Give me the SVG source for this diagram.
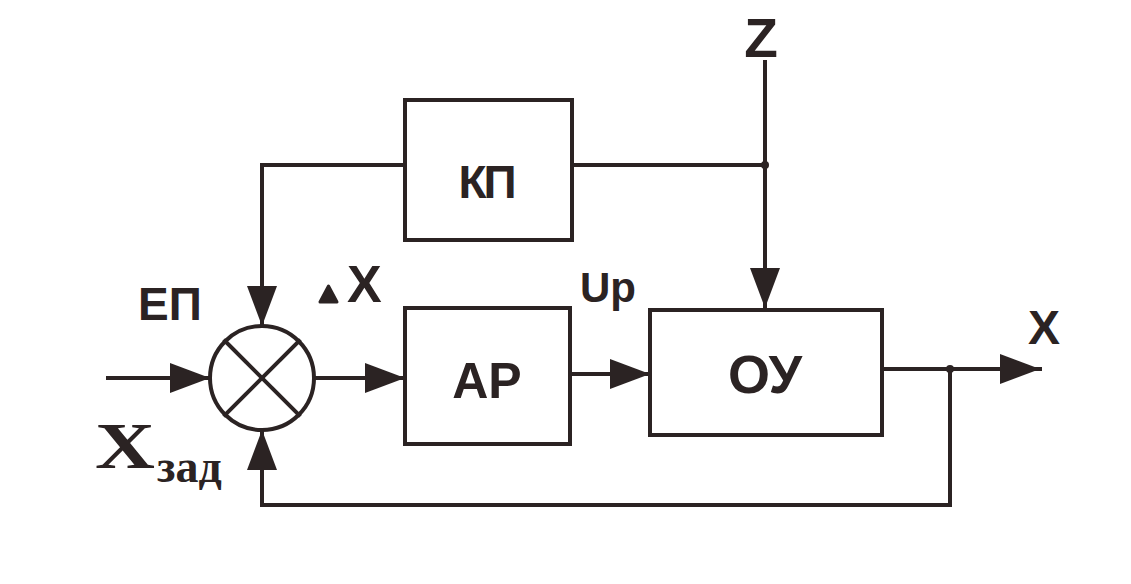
<svg xmlns="http://www.w3.org/2000/svg" width="1131" height="584" viewBox="0 0 1131 584">
<defs>
<style>
.ln{fill:none;stroke:#2b2323;stroke-width:4;stroke-linecap:square}
.bx{fill:#fff;stroke:#2b2323;stroke-width:4}
.t{font-family:"Liberation Sans",Arial,sans-serif;font-weight:bold;fill:#2b2323}
.s{font-family:"Liberation Serif","Times New Roman",serif;font-weight:bold;fill:#2b2323}
.ar{fill:#2b2323}
</style>
<marker id="arr" viewBox="0 0 40 30" refX="40" refY="15" markerWidth="40" markerHeight="30" markerUnits="userSpaceOnUse" orient="auto">
<path d="M0,0 L40,15 L0,30 Z" class="ar"/>
</marker>
</defs>
<rect width="1131" height="584" fill="#fff"/>
<g id="connectors">
<polyline class="ln" points="405,165 262,165 262,326" marker-end="url(#arr)"/>
<line class="ln" x1="572" y1="165" x2="765" y2="165"/>
<line class="ln" x1="765" y1="62" x2="765" y2="308" marker-end="url(#arr)"/>
<circle cx="765" cy="165" r="4" class="ar"/>
<line class="ln" x1="108" y1="378" x2="210" y2="378" marker-end="url(#arr)"/>
<line class="ln" x1="314" y1="378" x2="405" y2="378" marker-end="url(#arr)"/>
<line class="ln" x1="570" y1="374" x2="650" y2="374" marker-end="url(#arr)"/>
<line class="ln" x1="882" y1="369" x2="1040" y2="369" marker-end="url(#arr)"/>
<circle cx="950" cy="369" r="4" class="ar"/>
<polyline class="ln" points="950,369 950,505 262,505 262,430" marker-end="url(#arr)"/>
</g>
<g id="sum">
<circle cx="262" cy="378" r="52" fill="#fff" stroke="#2b2323" stroke-width="4"/>
<line class="ln" x1="225" y1="341" x2="299" y2="415"/>
<line class="ln" x1="299" y1="341" x2="225" y2="415"/>
</g>
<g id="kp">
<rect class="bx" x="405" y="100" width="167" height="140"/>
<text class="t" x="486" y="198" font-size="46" text-anchor="middle" letter-spacing="-3">КП</text>
</g>
<g id="ar">
<rect class="bx" x="405" y="308" width="165" height="136"/>
<text class="t" x="487" y="398" font-size="50" text-anchor="middle">АР</text>
</g>
<g id="oy">
<rect class="bx" x="650" y="310" width="232" height="125"/>
<text class="t" x="765" y="393" font-size="54" text-anchor="middle">ОУ</text>
</g>
<g id="labels">
<text class="t" x="761" y="57" font-size="55" text-anchor="middle">Z</text>
<text class="t" x="138" y="320" font-size="46">ЕП</text>
<text class="s" x="95" y="468" font-size="66" textLength="60" lengthAdjust="spacingAndGlyphs">X</text>
<text class="s" x="157" y="482" font-size="46">зад</text>
<path d="M320,302 L328.5,286 L337,302 Z" class="ar" stroke="#2b2323" stroke-width="3" stroke-linejoin="round"/>
<text class="t" x="347" y="302" font-size="52">X</text>
<text class="t" x="580" y="302" font-size="42">Up</text>
<text class="t" x="1028" y="344" font-size="48">X</text>
</g>
</svg>
